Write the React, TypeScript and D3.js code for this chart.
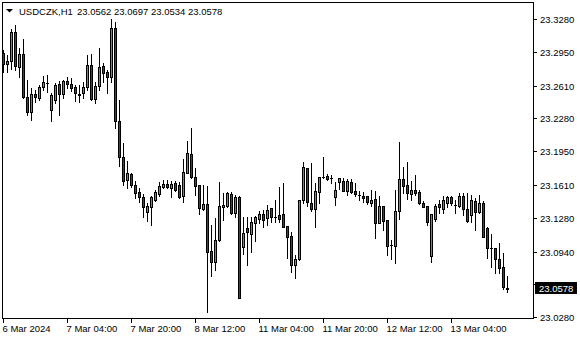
import React from "react";
import * as d3 from "d3";

const symbolLabel = "USDCZK,H1";
const headerValues = ["23.0562", "23.0697", "23.0534", "23.0578"];
const lastPrice = 23.0578;

const openP = [
  23.2939, 23.2828, 23.2858, 23.3150, 23.2798, 23.2929, 23.2496, 23.2345, 23.2526, 23.2486,
  23.2597, 23.2640, 23.2365, 23.2466, 23.2627, 23.2526, 23.2657, 23.2627, 23.2597, 23.2526,
  23.2536, 23.2597, 23.2818, 23.2476, 23.2607, 23.2808, 23.2748, 23.2697, 23.3190, 23.2255,
  23.1893, 23.1661, 23.1722, 23.1611, 23.1540, 23.1490, 23.1339, 23.1390, 23.1460, 23.1520,
  23.1591, 23.1621, 23.1581, 23.1631, 23.1611, 23.1500, 23.1732, 23.1923, 23.1691, 23.1611,
  23.1369, 23.1420, 23.0947, 23.0836, 23.1058, 23.1390, 23.1400, 23.1520, 23.1329, 23.1490,
  23.0987, 23.1178, 23.1118, 23.1229, 23.1269, 23.1319, 23.1279, 23.1380, 23.1289, 23.1309,
  23.1319, 23.1198, 23.1098, 23.0806, 23.0866, 23.1460, 23.1782, 23.1430, 23.1369, 23.1540,
  23.1691, 23.1701, 23.1681, 23.1490, 23.1641, 23.1651, 23.1551, 23.1641, 23.1551, 23.1510,
  23.1500, 23.1500, 23.1430, 23.1470, 23.1229, 23.1400, 23.1259, 23.1007, 23.0997, 23.1349,
  23.1671, 23.1611, 23.1520, 23.1561, 23.1540, 23.1430, 23.1400, 23.0897, 23.1269, 23.1420,
  23.1369, 23.1430, 23.1490, 23.1410, 23.1400, 23.1500, 23.1369, 23.1309, 23.1450, 23.1339,
  23.1430, 23.1178, 23.0977, 23.0977, 23.0866, 23.0786, 23.0562,
];
const highP = [
  23.2969, 23.2919, 23.3180, 23.3220, 23.2989, 23.3080, 23.2667, 23.2587, 23.2567, 23.2617,
  23.2707, 23.2717, 23.2536, 23.2637, 23.2657, 23.2667, 23.2697, 23.2687, 23.2617, 23.2617,
  23.2647, 23.2919, 23.2929, 23.2647, 23.2989, 23.2838, 23.2768, 23.3281, 23.3251, 23.2466,
  23.2033, 23.1852, 23.1732, 23.1651, 23.1581, 23.1520, 23.1430, 23.1500, 23.1561, 23.1641,
  23.1661, 23.1661, 23.1651, 23.1651, 23.1641, 23.1872, 23.2054, 23.2184, 23.1782, 23.1615,
  23.1611, 23.1601, 23.1208, 23.1279, 23.1641, 23.1530, 23.1540, 23.1540, 23.1510, 23.1500,
  23.1289, 23.1289, 23.1289, 23.1299, 23.1349, 23.1359, 23.1410, 23.1382, 23.1460, 23.1591,
  23.1631, 23.1200, 23.1138, 23.0907, 23.1462, 23.1842, 23.1785, 23.1832, 23.1631, 23.1695,
  23.1893, 23.1722, 23.1711, 23.1641, 23.1685, 23.1681, 23.1671, 23.1671, 23.1631, 23.1551,
  23.1540, 23.1502, 23.1561, 23.1551, 23.1500, 23.1402, 23.1261, 23.1058, 23.1561, 23.2043,
  23.1792, 23.1842, 23.1651, 23.1711, 23.1561, 23.1450, 23.1402, 23.1322, 23.1420, 23.1460,
  23.1500, 23.1500, 23.1500, 23.1460, 23.1530, 23.1530, 23.1530, 23.1510, 23.1480, 23.1510,
  23.1450, 23.1188, 23.1118, 23.0980, 23.1027, 23.0927, 23.0697,
];
const lowP = [
  23.2748, 23.2748, 23.2778, 23.2768, 23.2697, 23.2486, 23.2315, 23.2265, 23.2446, 23.2466,
  23.2567, 23.2546, 23.2255, 23.2436, 23.2315, 23.2486, 23.2587, 23.2557, 23.2456, 23.2446,
  23.2486, 23.2567, 23.2466, 23.2436, 23.2567, 23.2647, 23.2536, 23.2647, 23.2184, 23.1802,
  23.1611, 23.1581, 23.1591, 23.1480, 23.1440, 23.1289, 23.1249, 23.1208, 23.1450, 23.1500,
  23.1581, 23.1581, 23.1490, 23.1551, 23.1480, 23.1440, 23.1727, 23.1686, 23.1510, 23.1319,
  23.1359, 23.0333, 23.0695, 23.0756, 23.1048, 23.1259, 23.1390, 23.1319, 23.1289, 23.0470,
  23.0917, 23.0806, 23.0937, 23.1048, 23.1229, 23.1188, 23.1208, 23.1239, 23.1239, 23.1239,
  23.1185, 23.0877, 23.0736, 23.0675, 23.0856, 23.1430, 23.1400, 23.1349, 23.1188, 23.1430,
  23.1681, 23.1661, 23.1631, 23.1410, 23.1571, 23.1548, 23.1510, 23.1530, 23.1500, 23.1460,
  23.1440, 23.1420, 23.1400, 23.1078, 23.1224, 23.1158, 23.0907, 23.0866, 23.0826, 23.1269,
  23.1530, 23.1470, 23.1460, 23.1510, 23.1420, 23.1385, 23.1208, 23.0836, 23.1249, 23.1329,
  23.1329, 23.1390, 23.1410, 23.1329, 23.1390, 23.1309, 23.1239, 23.1239, 23.1158, 23.1329,
  23.1085, 23.0877, 23.0786, 23.0726, 23.0726, 23.0565, 23.0534,
];
const closeP = [
  23.2828, 23.2858, 23.3150, 23.2808, 23.2929, 23.2496, 23.2345, 23.2526, 23.2496, 23.2597,
  23.2647, 23.2642, 23.2516, 23.2617, 23.2526, 23.2657, 23.2627, 23.2587, 23.2536, 23.2521,
  23.2597, 23.2818, 23.2476, 23.2607, 23.2798, 23.2738, 23.2697, 23.3190, 23.2255, 23.1893,
  23.1651, 23.1732, 23.1611, 23.1530, 23.1490, 23.1390, 23.1400, 23.1490, 23.1540, 23.1601,
  23.1621, 23.1591, 23.1621, 23.1561, 23.1490, 23.1742, 23.1933, 23.1691, 23.1601, 23.1380,
  23.1420, 23.0937, 23.0836, 23.1058, 23.1400, 23.1410, 23.1530, 23.1329, 23.1490, 23.0474,
  23.1128, 23.1138, 23.1239, 23.1289, 23.1319, 23.1259, 23.1359, 23.1289, 23.1291, 23.1269,
  23.1188, 23.1088, 23.0806, 23.0866, 23.1460, 23.1792, 23.1440, 23.1369, 23.1551, 23.1691,
  23.1693, 23.1671, 23.1683, 23.1561, 23.1681, 23.1551, 23.1651, 23.1540, 23.1520, 23.1512,
  23.1480, 23.1440, 23.1460, 23.1229, 23.1400, 23.1249, 23.0997, 23.1009, 23.1349, 23.1671,
  23.1601, 23.1530, 23.1561, 23.1530, 23.1430, 23.1390, 23.1239, 23.1319, 23.1400, 23.1390,
  23.1460, 23.1490, 23.1430, 23.1412, 23.1500, 23.1369, 23.1249, 23.1460, 23.1339, 23.1430,
  23.1088, 23.0977, 23.0979, 23.0866, 23.0776, 23.0585, 23.0578,
];

const timeLabels = [
  "6 Mar 2024", "7 Mar 04:00", "7 Mar 20:00", "8 Mar 12:00",
  "11 Mar 04:00", "11 Mar 20:00", "12 Mar 12:00", "13 Mar 04:00",
];
const timeLabelBars = [0, 16, 32, 48, 64, 80, 96, 112];

const priceTicks = [23.028, 23.061, 23.094, 23.128, 23.161, 23.195, 23.228, 23.261, 23.295, 23.328];

const W = 580;
const H = 340;
const FONT = "'Liberation Sans', Arial, sans-serif";
const BULL = "#33b533";
const BEAR = "#e00000";

export default function App() {
  const n = openP.length;
  const plotL = 2.5, plotR = 533.5, plotT = 2.5, plotB = 318.5;
  const x = d3.scaleLinear().domain([0, n - 1]).range([3.5, 3.5 + 4 * (n - 1)]);
  const y = d3.scaleLinear().domain([23.028, 23.328]).range([317.3, 19.1]);

  const candles = d3.range(n).map((i) => {
    const cx = x(i);
    const yo = Math.round(y(openP[i]));
    const yc = Math.round(y(closeP[i]));
    const yh = Math.round(y(highP[i]));
    const yl = Math.round(y(lowP[i]));
    const top = Math.min(yo, yc);
    const bot = Math.max(yo, yc);
    const bull = closeP[i] >= openP[i];
    return (
      <g key={i}>
        <rect x={cx - 0.5} y={yh} width={1} height={yl - yh + 1} fill="#000" />
        <rect x={cx - 1.5} y={top} width={3} height={bot - top + 1} fill="#000" />
        {bot - top >= 2 && (
          <rect x={cx - 0.5} y={top + 1} width={1} height={bot - top - 1} fill={bull ? BULL : BEAR} />
        )}
      </g>
    );
  });

  const yLast = y(lastPrice);

  return (
    <svg
      width={W}
      height={H}
      style={{ position: "absolute", left: 0, top: 0, background: "#fff" }}
      shapeRendering="crispEdges"
    >
      <rect x={0} y={0} width={W} height={H} fill="#fff" />
      <defs>
        <clipPath id="plot">
          <rect x={plotL} y={plotT} width={plotR - plotL} height={plotB - plotT} />
        </clipPath>
      </defs>
      <g clipPath="url(#plot)">{candles}</g>
      <rect x={plotL} y={plotT} width={plotR - plotL} height={plotB - plotT} fill="none" stroke="#000" strokeWidth={1} />

      {/* header */}
      <polygon points="6,9 13,9 9.5,12.5" fill="#000" shapeRendering="auto" />
      <text x={19} y={15} fontFamily={FONT} fontSize={9.5} fill="#000">{symbolLabel}</text>
      <text x={77} y={15} fontFamily={FONT} fontSize={9.5} fill="#000">{headerValues.join(" ")}</text>

      {/* price axis */}
      {priceTicks.map((p) => {
        const ty = Math.round(y(p)) + 0.5;
        const hidden = Math.abs(y(p) - yLast) < 8;
        return (
          <g key={p}>
            <line x1={533.5} x2={537} y1={ty} y2={ty} stroke="#000" />
            {!hidden && (
              <text x={540} y={ty + 3.5} fontFamily={FONT} fontSize={9.5} fill="#000">{p.toFixed(4)}</text>
            )}
          </g>
        );
      })}
      <rect x={535} y={Math.round(yLast) - 6} width={42} height={12} fill="#000" />
      <text x={539} y={Math.round(yLast) + 4} fontFamily={FONT} fontSize={9.5} fill="#fff">{lastPrice.toFixed(4)}</text>

      {/* time axis */}
      {timeLabels.map((t, k) => {
        const tx = x(timeLabelBars[k]);
        return (
          <g key={t}>
            <line x1={tx} x2={tx} y1={318.5} y2={323} stroke="#000" />
            <text x={tx - 1} y={332} fontFamily={FONT} fontSize={9.5} fill="#000">{t}</text>
          </g>
        );
      })}
    </svg>
  );
}
